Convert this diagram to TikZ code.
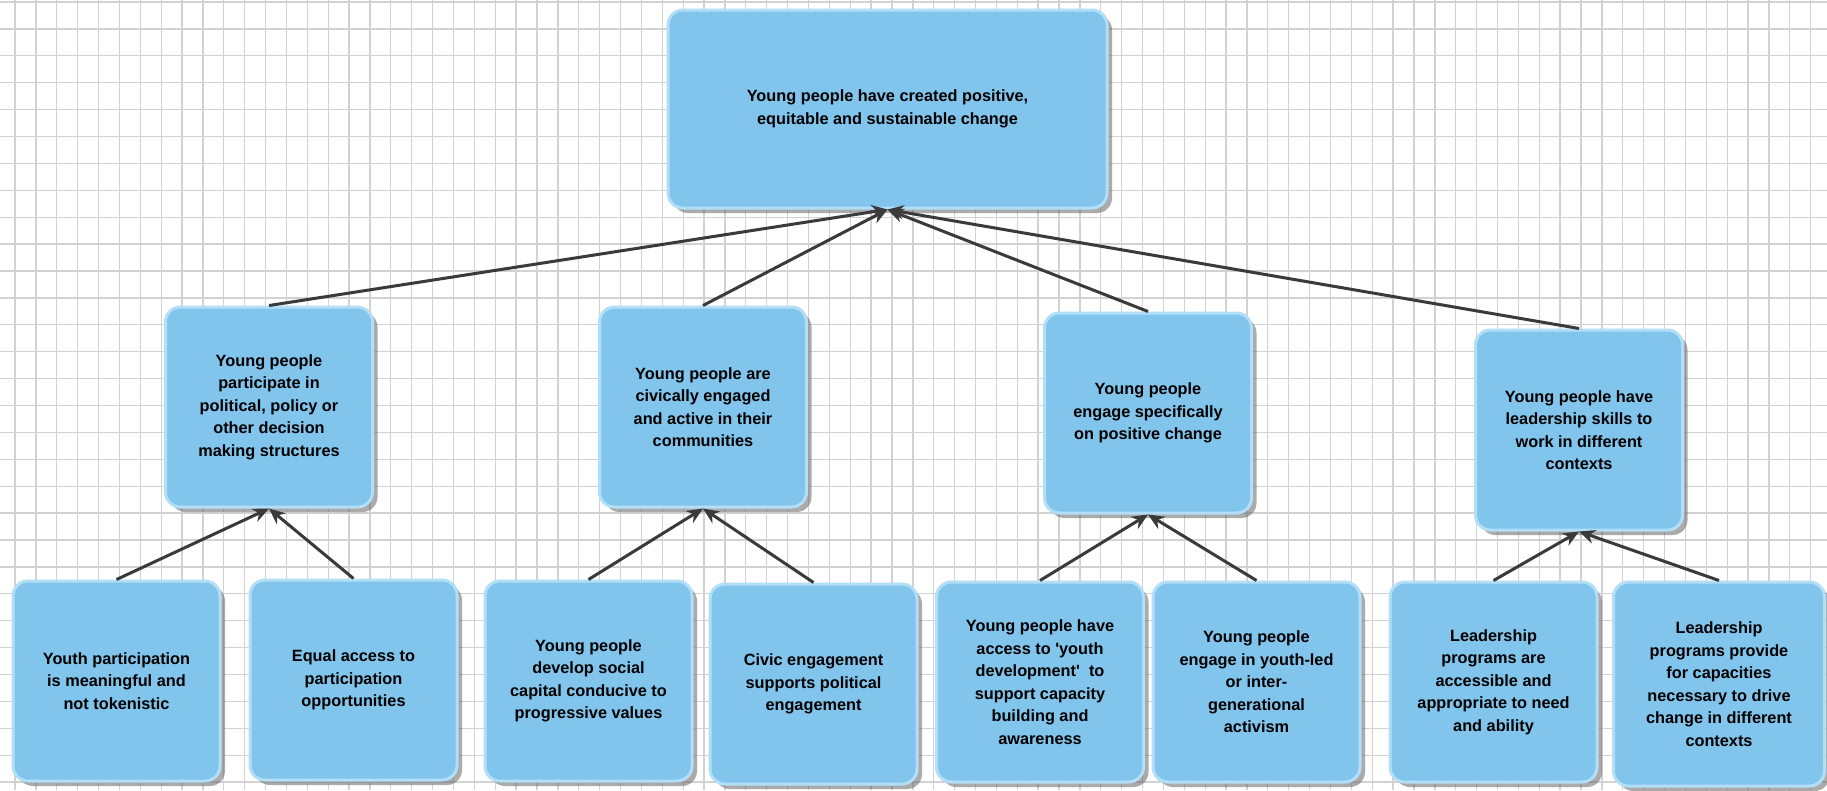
\documentclass[tikz,border=0pt]{standalone}
\usepackage{fontspec}
\setmainfont{Liberation Sans}
\usetikzlibrary{arrows.meta,shadows}

\definecolor{boxfill}{HTML}{81C4EC}
\definecolor{boxline}{HTML}{B2DFF7}
\definecolor{pfeilfarbe}{HTML}{3A3A3A}
\definecolor{raster}{HTML}{D2D2D2}

\tikzset{
    ziel/.style={draw=boxline, line width=3pt, fill=boxfill, rounded corners=15pt,
        align=center, inner sep=0pt, text=black,
        font=\fontsize{16.3}{22.5}\selectfont\bfseries,
        drop shadow={shadow xshift=5pt, shadow yshift=-5pt, fill=black!60, opacity=.55}},
    teilziel/.style={ziel, minimum width=207pt, minimum height=200pt},
    pfeil/.style={-{Stealth[length=16pt,width=14pt]}, line width=3pt, pfeilfarbe},
}

\begin{document}
\begin{tikzpicture}[x=1pt, y=-1pt]
        \useasboundingbox (0,0) rectangle (1827,790);
        \fill[white] (0,0) rectangle (1827,790);

        % Raster
        \foreach \i in {0,...,87} {
                \draw[raster, line width=1.3pt] ({15+20.88*\i},0) -- ({15+20.88*\i},790);
            }
        \foreach \j in {0,...,29} {
                \draw[raster, line width=1.3pt] (0,{2+26.9*\j}) -- (1827,{2+26.9*\j});
            }

        % Oberstes Ziel
        \node[ziel, minimum width=439pt, minimum height=198pt] (top) at (887.5,109)
            {Young people have created positive,\\equitable and sustainable change};

        % Zweite Ebene
        \node[teilziel] (m1) at (269,407) {Young people\\participate in\\political, policy or\\other decision\\making structures};
        \node[teilziel] (m2) at (703,407) {Young people are\\civically engaged\\and active in their\\communities};
        \node[teilziel] (m3) at (1148,413) {Young people\\engage specifically\\on positive change};
        \node[teilziel] (m4) at (1579,430) {Young people have\\leadership skills to\\work in different\\contexts};

        % Unterste Ebene
        \node[teilziel] (u1) at (116.5,681) {Youth participation\\is meaningful and\\not tokenistic};
        \node[teilziel] (u2) at (353.5,680) {Equal access to\\participation\\opportunities};
        \node[teilziel] (u3) at (588.5,681) {Young people\\develop social\\capital conducive to\\progressive values};
        \node[teilziel] (u4) at (813.5,684) {Civic engagement\\supports political\\engagement};
        \node[teilziel] (u5) at (1040,682) {Young people have\\access to \textquotesingle youth\\development\textquotesingle\ \ to\\support capacity\\building and\\awareness};
        \node[teilziel] (u6) at (1256.5,682) {Young people\\engage in youth-led\\or inter-\\generational\\activism};
        \node[teilziel] (u7) at (1493.5,682) {Leadership\\programs are\\accessible and\\appropriate to need\\and ability};
        \node[teilziel, minimum width=211pt, minimum height=204pt] (u8) at (1719,684) {Leadership\\programs provide\\for capacities\\necessary to drive\\change in different\\contexts};

        % Pfeile
        \foreach \m in {m1,m2,m3,m4} {
                \draw[pfeil] (\m.north) -- (top.south);
            }
        \draw[pfeil] (u1.north) -- (m1.south);
        \draw[pfeil] (u2.north) -- (m1.south);
        \draw[pfeil] (u3.north) -- (m2.south);
        \draw[pfeil] (u4.north) -- (m2.south);
        \draw[pfeil] (u5.north) -- (m3.south);
        \draw[pfeil] (u6.north) -- (m3.south);
        \draw[pfeil] (u7.north) -- (m4.south);
        \draw[pfeil] (u8.north) -- (m4.south);

    \end{tikzpicture}
\end{document}
